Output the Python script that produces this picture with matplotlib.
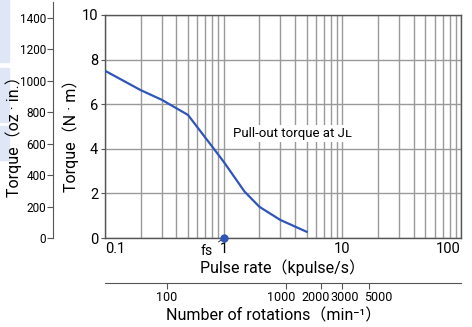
import matplotlib
matplotlib.use("Agg")
import matplotlib.pyplot as plt
from matplotlib.ticker import FixedLocator, NullLocator, FixedFormatter, NullFormatter
from matplotlib.patches import Rectangle

plt.rcParams['font.family'] = ['Roboto', 'Noto Sans CJK JP', 'DejaVu Sans']

# data
pulse_rate = [0.1, 0.2, 0.3, 0.5, 0.8, 1.0, 1.5, 2.0, 3.0, 5.0]
torque_nm = [7.5, 6.63, 6.2, 5.52, 4.1, 3.42, 2.08, 1.4, 0.81, 0.28]
fs_rate = 1.0
y_ticks = [0, 2, 4, 6, 8, 10]
oz_ticks = [0, 200, 400, 600, 800, 1000, 1200, 1400]
x_ticks = [0.1, 1, 10, 100]
x_labels = ['0.1', '1', '10', '100']
rpm_ticks = [100, 1000, 2000, 3000, 5000]
NM_TO_OZIN = 141.6
STEPS_PER_REV = 200

# small pixel nudges so the crowded rpm labels don't collide (like the original)
rpm_label_shift = [0, -5, -6, 2, 10]

W, H = 472, 327
fig = plt.figure(figsize=(W / 100, H / 100), dpi=100)

def box(x0, y0, x1, y1):
    return [x0 / W, 1 - y1 / H, (x1 - x0) / W, (y1 - y0) / H]

blue = '#2f55b8'
grid_c = '#9a9a9a'
frame_c = '#555555'

# faint blue strips at the left edge of the scan
for y0, y1 in [(0, 62), (68, 122), (126, 160)]:
    fig.patches.append(Rectangle((0, 1 - y1 / H), 9 / W, (y1 - y0) / H,
                                 transform=fig.transFigure, color='#dfe6f5', zorder=0))

ax = fig.add_axes(box(105, 15, 461, 238))
ax.set_xscale('log')
ax.set_xlim(0.1, 100)
ax.set_ylim(0, 10)
ax.plot(pulse_rate, torque_nm, color=blue, lw=1.6, zorder=3)
ax.plot([fs_rate], [0], 'o', color=blue, ms=5, clip_on=False, zorder=4)

ax.xaxis.set_major_locator(FixedLocator(x_ticks))
ax.xaxis.set_major_formatter(FixedFormatter(x_labels))
ax.set_yticks(y_ticks)
ax.grid(True, which='major', color=grid_c, lw=1.0)
ax.grid(True, which='minor', axis='x', color=grid_c, lw=1.0)
ax.tick_params(axis='x', which='both', length=0, labelsize=10.5, pad=3)
ax.tick_params(axis='y', length=3, labelsize=10.5, pad=2, color=frame_c)
for s in ax.spines.values():
    s.set_color(frame_c)
    s.set_linewidth(1.0)
xt = ax.get_xticklabels()
xt[0].set_ha('left')
xt[-1].set_ha('right')

ax.text(1.2, 4.7, 'Pull-out torque at Jʟ', fontsize=9.5,
        va='center', ha='left', zorder=5,
        bbox=dict(facecolor='white', edgecolor='none', pad=1.5))

ax.annotate('fs', xy=(fs_rate, 0), xytext=(-12.5, -9.5), textcoords='offset points',
            fontsize=10, ha='center', va='center', annotation_clip=False,
            arrowprops=dict(arrowstyle='-', color='#333333', lw=0.7,
                            shrinkA=3, shrinkB=2))

ax.set_xlabel('Pulse rate（kpulse/s）', fontsize=11.5, labelpad=2)

# rotation speed axis below
to_rpm = lambda x: x * 1000 * 60 / STEPS_PER_REV
to_kpps = lambda r: r * STEPS_PER_REV / 60 / 1000
sec_y = -0.202
sec = ax.secondary_xaxis(sec_y, functions=(to_rpm, to_kpps))
sec.xaxis.set_major_locator(FixedLocator(rpm_ticks))
sec.xaxis.set_major_formatter(NullFormatter())
sec.xaxis.set_minor_locator(NullLocator())
sec.tick_params(axis='x', length=4, pad=2, color=frame_c)
sec.spines['bottom'].set_color(frame_c)
for r, dx in zip(rpm_ticks, rpm_label_shift):
    ax.annotate(str(r), xy=(to_kpps(r), sec_y), xycoords=('data', 'axes fraction'),
                xytext=(dx * 0.72, -6), textcoords='offset points',
                ha='center', va='top', fontsize=9, annotation_clip=False)
fig.text(274 / W, 1 - 316 / H, 'Number of rotations（min⁻¹）', fontsize=11.5,
         ha='center', va='center')

# oz-in axis on the far left
ax_oz = fig.add_axes(box(53, 15, 54, 238))
ax_oz.set_ylim(0, 10 * NM_TO_OZIN)
ax_oz.set_yticks(oz_ticks)
ax_oz.set_xticks([])
for k in ['top', 'right', 'bottom']:
    ax_oz.spines[k].set_visible(False)
ax_oz.spines['left'].set_color(frame_c)
ax_oz.spines['left'].set_bounds(0, 1500)
ax_oz.patch.set_alpha(0)
ax_oz.tick_params(axis='y', length=4, labelsize=8.5, pad=1, color=frame_c)

fig.text(14 / W, 1 - 133 / H, 'Torque（oz · in.）', rotation=90, fontsize=11.5,
         ha='center', va='center')
fig.text(71 / W, 1 - 132 / H, 'Torque（N · m）', rotation=90, fontsize=11.5,
         ha='center', va='center')

fig.savefig('out.png', dpi=100)
